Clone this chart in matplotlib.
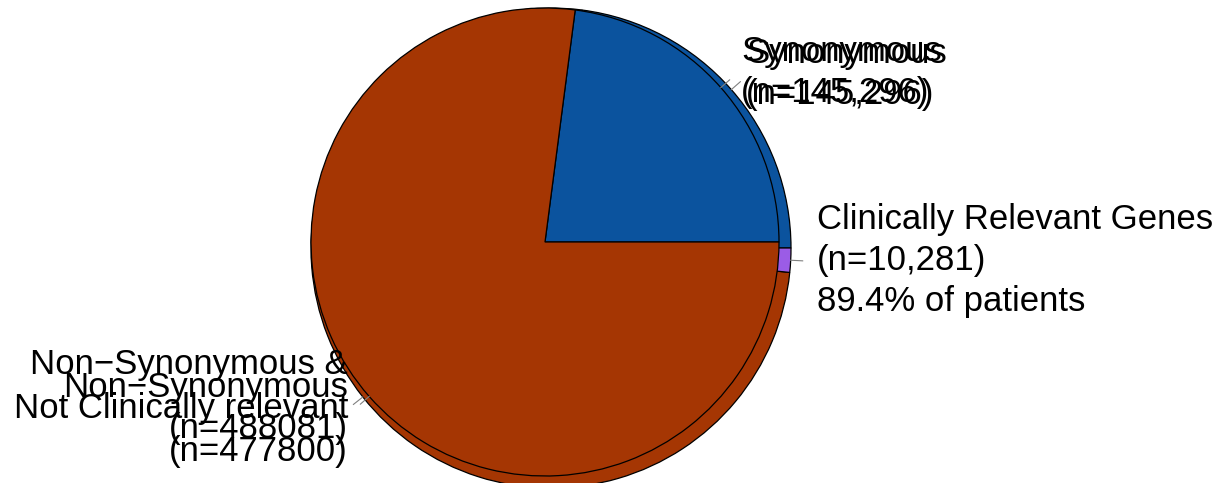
import numpy as np
import matplotlib.pyplot as plt

plt.rcParams['font.family'] = ['Liberation Sans', 'DejaVu Sans']

# front pie: synonymous vs non-synonymous
front_labels = ['Synonymous\n(n=145,296)', 'Non\u2212Synonymous\n(n=488081)']
front_counts = [145296, 488081]

# back pie: non-synonymous split by clinical relevance
back_labels = ['Synonymous\n(n=145,296)',
               'Non\u2212Synonymous &\nNot Clinically relevant\n(n=477800)',
               'Clinically Relevant Genes\n(n=10,281)\n89.4% of patients']
back_counts = [145296, 477800, 10281]

front_colors = ['#0b539e', '#a53603']
back_colors = ['#0b539e', '#a53603', '#9b5ce6']

H = 483
fig = plt.figure(figsize=(12.2, 4.83), dpi=100)
ax = fig.add_axes([0, 0, 1, 1])


def draw_pie(counts, colors, center, radius, label_pos, labels, ha, spacing):
    ax.pie(counts, colors=colors, startangle=0, counterclock=True,
           center=center, radius=radius,
           wedgeprops=dict(edgecolor='black', linewidth=0.9))
    frac = np.cumsum([0] + list(counts)) / np.sum(counts) * 2 * np.pi
    mids = (frac[:-1] + frac[1:]) / 2
    for m in mids:
        x0 = center[0] + radius * np.cos(m)
        y0 = center[1] + radius * np.sin(m)
        x1 = center[0] + 1.05 * radius * np.cos(m)
        y1 = center[1] + 1.05 * radius * np.sin(m)
        ax.plot([x0, x1], [y0, y1], color='#808080', lw=0.8)
    for lab, (x, y), h, ls in zip(labels, label_pos, ha, spacing):
        ax.text(x, H - y, lab, ha=h, va='baseline', fontsize=25,
                linespacing=ls, color='black')


draw_pie(back_counts, back_colors, (551, H - 248), 240,
         [(746, 104), (348, 461), (817, 311)], back_labels,
         ['left', 'right', 'left'], [1.32, 1.4, 1.3])
draw_pie(front_counts, front_colors, (545, H - 242), 234,
         [(741, 102), (348, 438)], front_labels, ['left', 'right'],
         [1.32, 1.32])

ax.set_xlim(0, 1220)
ax.set_ylim(0, H)
ax.set_aspect('equal')
ax.axis('off')

fig.savefig('out.png', dpi=100)
